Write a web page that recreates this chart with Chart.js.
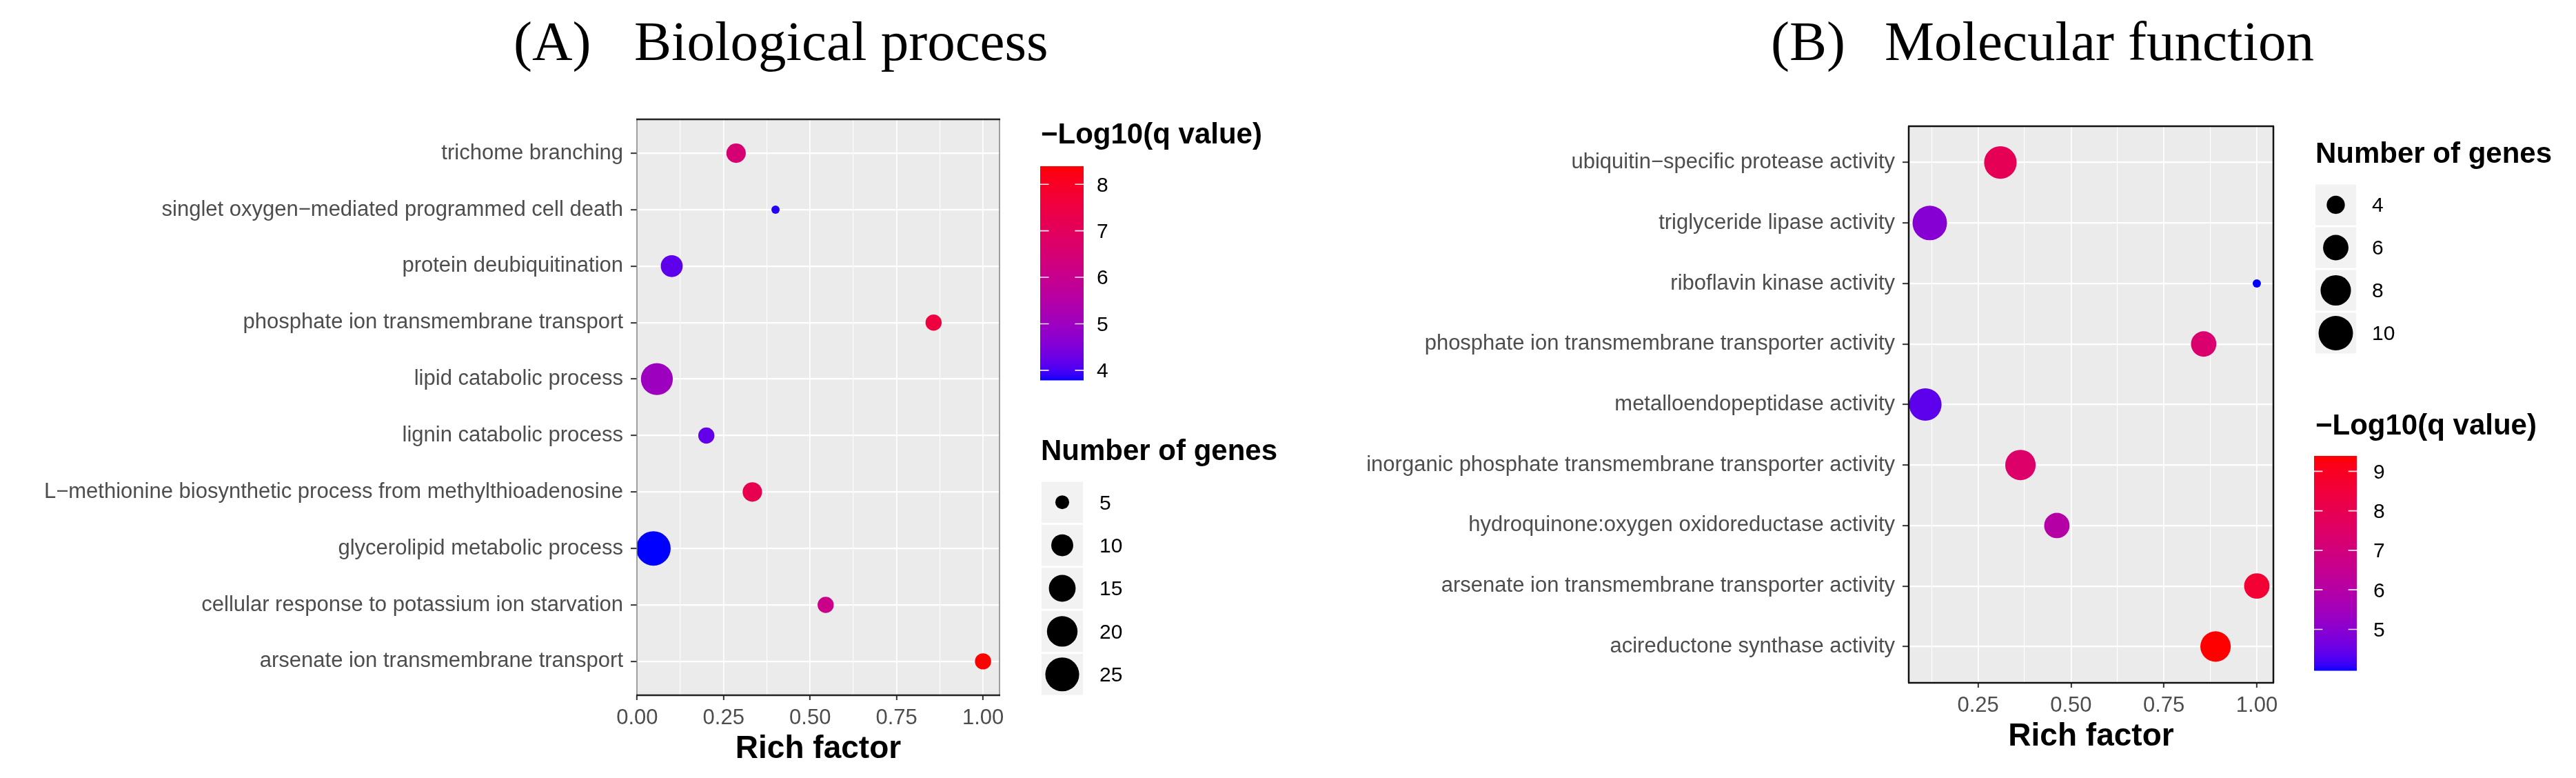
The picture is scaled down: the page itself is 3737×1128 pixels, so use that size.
<!DOCTYPE html>
<html><head><meta charset="utf-8">
<script src="https://cdn.jsdelivr.net/npm/chart.js@4.4.1/dist/chart.umd.min.js"></script>
<style>
html,body{margin:0;padding:0;background:#fff;}
#wrap{position:relative;width:3737px;height:1128px;overflow:hidden;background:#fff;}
canvas{position:absolute;top:0;}
.t{position:absolute;white-space:nowrap;margin:0;padding:0;}
</style></head><body><div id="wrap">
<canvas id="cA" width="1880" height="1128" style="left:0px;width:1880px;height:1128px"></canvas>
<canvas id="cB" width="1857" height="1128" style="left:1880px;width:1857px;height:1128px"></canvas>
</div>
<script>
// ---------------- DATA ----------------
const termsA = ["trichome branching", "singlet oxygen\u2212mediated programmed cell death", "protein deubiquitination",
  "phosphate ion transmembrane transport", "lipid catabolic process", "lignin catabolic process",
  "L\u2212methionine biosynthetic process from methylthioadenosine", "glycerolipid metabolic process",
  "cellular response to potassium ion starvation", "arsenate ion transmembrane transport"];
const richA  = [0.286, 0.400, 0.100, 0.857, 0.057, 0.200, 0.333, 0.047, 0.545, 1.000];
const genesA = [8, 4, 10, 6, 22, 6, 8, 26, 6, 6];
const qA     = [6.55, 3.84, 4.16, 7.56, 5.00, 4.20, 7.24, 3.79, 6.10, 8.39];
const xTicksA = [0, 0.25, 0.5, 0.75, 1.0];
const sizeBreaksA = [5, 10, 15, 20, 25];
const colorBreaksA = [4, 5, 6, 7, 8];

const termsB = ["ubiquitin\u2212specific protease activity", "triglyceride lipase activity", "riboflavin kinase activity",
  "phosphate ion transmembrane transporter activity", "metalloendopeptidase activity",
  "inorganic phosphate transmembrane transporter activity", "hydroquinone:oxygen oxidoreductase activity",
  "arsenate ion transmembrane transporter activity", "acireductone synthase activity"];
const richB  = [0.310, 0.120, 1.000, 0.857, 0.108, 0.364, 0.462, 1.000, 0.889];
const genesB = [9, 10, 3, 6, 9, 8, 6, 6, 8];
const qB     = [7.87, 4.94, 3.96, 7.33, 4.39, 7.44, 6.00, 8.63, 9.39];
const xTicksB = [0.25, 0.5, 0.75, 1.0];
const sizeBreaksB = [4, 6, 8, 10];
const colorBreaksB = [5, 6, 7, 8, 9];

// ---------------- COLOUR (Lab gradient blue -> red) ----------------
function s2l(c){c/=255;return c<=0.04045?c/12.92:Math.pow((c+0.055)/1.055,2.4);}
function l2s(c){c=c<=0.0031308?12.92*c:1.055*Math.pow(Math.max(c,0),1/2.4)-0.055;return Math.round(Math.max(0,Math.min(1,c))*255);}
function rgb2lab(r,g,b){const R=s2l(r),G=s2l(g),B=s2l(b);
  const X=(0.4124564*R+0.3575761*G+0.1804375*B)/0.95047,Y=0.2126729*R+0.7151522*G+0.0721750*B,Z=(0.0193339*R+0.1191920*G+0.9503041*B)/1.08883;
  const f=t=>t>0.008856?Math.cbrt(t):(7.787*t+16/116);const fx=f(X),fy=f(Y),fz=f(Z);
  return [116*fy-16,500*(fx-fy),200*(fy-fz)];}
function lab2rgb(L,a,b){const fy=(L+16)/116,fx=fy+a/500,fz=fy-b/200;
  const inv=t=>t*t*t>0.008856?t*t*t:(t-16/116)/7.787;
  const X=inv(fx)*0.95047,Y=inv(fy),Z=inv(fz)*1.08883;
  const R=3.2404542*X-1.5371385*Y-0.4985314*Z,G=-0.9692660*X+1.8760108*Y+0.0415560*Z,B=0.0556434*X-0.2040259*Y+1.0572252*Z;
  return 'rgb('+l2s(R)+','+l2s(G)+','+l2s(B)+')';}
const LOW=rgb2lab(0,0,255), HIGH=rgb2lab(255,0,0);
function gradient(t){t=Math.max(0,Math.min(1,t));return lab2rgb(LOW[0]+(HIGH[0]-LOW[0])*t,LOW[1]+(HIGH[1]-LOW[1])*t,LOW[2]+(HIGH[2]-LOW[2])*t);}

const FAM = '"Liberation Sans", Arial, Helvetica, sans-serif';
const SERIF = '"Liberation Serif", "Times New Roman", Times, serif';
const wrap = document.getElementById('wrap');
function addText(txt, x, y, size, o){
  o = o || {};
  const d = document.createElement('div'); d.className='t'; d.textContent = txt;
  const fam = o.serif ? SERIF : FAM;
  const asc = o.serif ? 0.8375 : 0.8465;
  let top = o.middle ? y - (asc - 0.358)*size : y - asc*size;
  d.style.cssText += 'left:'+x+'px;top:'+top+'px;font-family:'+fam+';font-size:'+size+'px;line-height:'+size+'px;height:'+size+'px;color:'+(o.color||'#000')+';font-weight:'+(o.bold?'bold':'normal')+';';
  wrap.appendChild(d);
}

function makePanel(canvasId, terms, rich, genes, q, xTicks, sizeBreaks, colorBreaks, G){
  const n = terms.length;
  const rmin = Math.min(...rich), rmax = Math.max(...rich), sp = rmax - rmin;
  const xmin = rmin - 0.05*sp, xmax = rmax + 0.05*sp;
  const gmin = Math.min(...genes), gmax = Math.max(...genes);
  const qmin = Math.min(...q), qmax = Math.max(...q);
  const size = v => G.dmin + (G.dmax - G.dmin)*Math.sqrt(Math.max(0,(v - gmin)/(gmax - gmin)));
  const col = v => gradient((v - qmin)/(qmax - qmin));
  const step = xTicks[1] - xTicks[0];
  const xAll = [];
  for (let k = -2; k <= 2*(xTicks.length+1); k++){
    const v = Math.round((xTicks[0] + k*step/2)*10000)/10000;
    if (v >= xmin - 1e-9 && v <= xmax + 1e-9) xAll.push(v);
  }
  const isMajor = v => xTicks.some(t => Math.abs(t - v) < 1e-6);
  const ox = G.canvasLeft;
  const cb = G.colorbar, sl = G.sizeLegend;
  const cbY = v => cb.bottom - (v - qmin)/(qmax - qmin)*(cb.bottom - cb.top);

  const bgPlugin = { id:'bg'+canvasId, beforeDraw(c){ const x=c.ctx, a=c.chartArea; x.save(); x.fillStyle='#fff'; x.fillRect(0,0,c.width,c.height); x.fillStyle='#EBEBEB'; x.fillRect(a.left,a.top,a.right-a.left,a.bottom-a.top); x.restore(); } };
  const borderPlugin = { id:'bd'+canvasId, afterDatasetsDraw(c){ const x=c.ctx, a=c.chartArea; x.save();
      const seg=(x1,y1,x2,y2,w,s)=>{x.strokeStyle=s;x.lineWidth=w;x.beginPath();x.moveTo(x1,y1);x.lineTo(x2,y2);x.stroke();};
      seg(a.left,a.top,a.left,a.bottom,G.sideW,G.sideC); seg(a.right,a.top,a.right,a.bottom,G.sideW,G.sideC);
      seg(a.left-1,a.top,a.right+1,a.top,G.tbW,G.tbC); seg(a.left-1,a.bottom,a.right+1,a.bottom,G.tbW,G.tbC);
      x.restore(); } };
  const legendPlugin = { id:'lg'+canvasId, afterDraw(c){ const x=c.ctx; x.save();
      const h = cb.bottom - cb.top;
      for (let i=0;i<h;i++){ const v = qmax - (i+0.5)/h*(qmax-qmin); x.fillStyle = col(v); x.fillRect(cb.x-ox, cb.top+i, cb.w, 1.5); }
      x.strokeStyle='rgba(255,255,255,0.9)'; x.lineWidth=1.6;
      colorBreaks.forEach(v => { const y = cbY(v); x.beginPath(); x.moveTo(cb.x-ox,y); x.lineTo(cb.x-ox+cb.w*0.2,y); x.moveTo(cb.x-ox+cb.w,y); x.lineTo(cb.x-ox+cb.w*0.8,y); x.stroke(); });
      sizeBreaks.forEach((v,i) => { const cy = sl.top + sl.step*i + sl.step/2;
        x.fillStyle='#F2F2F2'; x.fillRect(sl.x-ox, cy - sl.keyH/2, sl.w, sl.keyH);
        x.fillStyle='#000'; x.beginPath(); x.arc(sl.x-ox+sl.w/2, cy, size(v)/2, 0, 2*Math.PI); x.fill(); });
      x.restore(); } };

  new Chart(document.getElementById(canvasId), {
    type: 'scatter',
    data: { datasets: [{
      data: terms.map((t,i) => ({x: rich[i], y: i, g: genes[i], q: q[i]})),
      pointRadius: c => c.raw ? size(c.raw.g)/2 : 0,
      pointHoverRadius: c => c.raw ? size(c.raw.g)/2 : 0,
      pointBackgroundColor: c => c.raw ? col(c.raw.q) : '#000',
      pointBorderWidth: 0, pointBorderColor: 'rgba(0,0,0,0)'
    }]},
    options: {
      responsive: false, animation: false, devicePixelRatio: 1, events: [],
      layout: { padding: { left: 0, top: G.top, right: G.canvasW - (G.right - ox), bottom: 0 } },
      plugins: { legend: {display:false}, tooltip: {enabled:false} },
      scales: {
        x: { type:'linear', min: xmin, max: xmax,
          afterBuildTicks: s => { s.ticks = xAll.map(v => ({value: v})); },
          afterFit: s => { s.height = 1128 - G.bottom; },
          ticks: { autoSkip:false, maxRotation:0, minRotation:0, padding: 8, color:'#4D4D4D', font:{family:FAM, size:31},
                   callback: v => isMajor(v) ? Number(v).toFixed(2) : '' },
          grid: { color:'#FFFFFF', lineWidth: c => (c.tick && isMajor(c.tick.value)) ? 1.7 : 1.1,
                  tickColor: c => (c.tick && isMajor(c.tick.value)) ? '#333333' : 'rgba(0,0,0,0)', tickLength: 7, tickWidth: 2 },
          border: { display:false },
          title: { display:true, text:'Rich factor', color:'#000', font:{family:FAM, size:46, weight:'bold'}, padding:{top:0, bottom:G.titlePad} }
        },
        y: { type:'linear', reverse:true, min:-0.6, max:n-0.4,
          afterBuildTicks: s => { s.ticks = terms.map((_,i) => ({value:i})); },
          afterFit: s => { s.width = G.left - ox; },
          ticks: { autoSkip:false, padding: 11, color:'#4D4D4D', font:{family:FAM, size:31}, callback: v => terms[v] },
          grid: { color:'#FFFFFF', lineWidth: 2.3, tickColor:'#333333', tickLength: 9, tickWidth: 2 },
          border: { display:false }
        }
      }
    },
    plugins: [bgPlugin, borderPlugin, legendPlugin]
  });

  // titles & legend texts
  G.titleParts.forEach(p => addText(p.text, p.x, G.titleBaseline, G.titleSize, {serif:true}));
  addText('\u2212Log10(q value)', cb.titleX, cb.titleBaseline, 42, {bold:true});
  colorBreaks.forEach(v => addText(String(v), cb.labelX, cbY(v), 30, {middle:true}));
  addText('Number of genes', sl.titleX, sl.titleBaseline, 42, {bold:true});
  sizeBreaks.forEach((v,i) => addText(String(v), sl.labelX, sl.top + sl.step*i + sl.step/2, 30, {middle:true}));
}

makePanel('cA', termsA, richA, genesA, qA, xTicksA, sizeBreaksA, colorBreaksA, {
  canvasLeft:0, canvasW:1880, left:924, right:1450, top:173, bottom:1008, titlePad:14,
  dmin:12, dmax:50, sideW:1.5, sideC:'#7F7F7F', tbW:2.6, tbC:'#222222',
  titleParts:[{text:'(A)', x:745},{text:'Biological process', x:920}], titleBaseline:88, titleSize:81,
  colorbar:{x:1509, w:63, top:241, bottom:551, titleX:1510, titleBaseline:209, labelX:1591},
  sizeLegend:{x:1511, w:60, top:697, step:62.4, keyH:59.5, titleX:1510, titleBaseline:668, labelX:1595}
});
makePanel('cB', termsB, richB, genesB, qB, xTicksB, sizeBreaksB, colorBreaksB, {
  canvasLeft:1880, canvasW:1857, left:2769, right:3298, top:183, bottom:990, titlePad:32,
  dmin:12, dmax:50, sideW:2.5, sideC:'#111111', tbW:2.6, tbC:'#111111',
  titleParts:[{text:'(B)', x:2569},{text:'Molecular function', x:2734}], titleBaseline:88, titleSize:81,
  colorbar:{x:3357, w:62, top:661, bottom:972, titleX:3359, titleBaseline:631, labelX:3443},
  sizeLegend:{x:3359, w:59, top:266, step:62, keyH:59, titleX:3359, titleBaseline:237, labelX:3441}
});
</script>
</body></html>
